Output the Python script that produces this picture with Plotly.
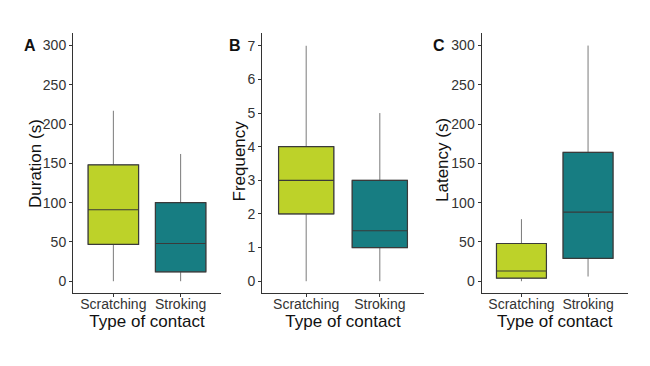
import plotly.graph_objects as go

categories = ["Scratching", "Stroking"]
colors = ["#bdd229", "#177d82"]

# Panel A: Duration (s)
dur_low = [0, 0]
dur_q1 = [47, 12]
dur_med = [91, 48]
dur_q3 = [148, 100]
dur_high = [217, 162]

# Panel B: Frequency
freq_low = [0, 0]
freq_q1 = [2, 1]
freq_med = [3, 1.5]
freq_q3 = [4, 3]
freq_high = [7, 5]

# Panel C: Latency (s)
lat_low = [0, 6]
lat_q1 = [4, 29]
lat_med = [13, 88]
lat_q3 = [48, 164]
lat_high = [79, 300]

panels = [
    ("A", "Duration (s)", dur_low, dur_q1, dur_med, dur_q3, dur_high,
     [0, 50, 100, 150, 200, 250, 300], [-15, 316]),
    ("B", "Frequency", freq_low, freq_q1, freq_med, freq_q3, freq_high,
     [0, 1, 2, 3, 4, 5, 6, 7], [-0.35, 7.38]),
    ("C", "Latency (s)", lat_low, lat_q1, lat_med, lat_q3, lat_high,
     [0, 50, 100, 150, 200, 250, 300], [-15, 316]),
]

W, H = 650, 366
OFF = 8  # page body margin
# pixel extents of each plot area (left, right), shared top/bottom
xpix = [(73, 221), (262, 424), (481.5, 628)]
lab_gap = [35, 19, 34.5]
ytitle_pos = [(35, 164), (238.5, 161), (442, 160)]
ytop, ybot = 33, 293

fig = go.Figure()
FONT = "Liberation Sans, Arial, sans-serif"
layout = dict(
    width=W, height=H, margin=dict(l=0, r=0, t=0, b=0),
    paper_bgcolor="white", plot_bgcolor="white", showlegend=False,
    font=dict(family=FONT, color="#333333"),
)
annotations = []

for i, (lab, ytitle, lo, q1, med, q3, hi, ticks, yr) in enumerate(panels):
    n = "" if i == 0 else str(i + 1)
    xref = "x" + n
    yref = "y" + n
    for j, cat in enumerate(categories):
        # full box with grey whiskers
        fig.add_trace(go.Box(
            x=[cat], q1=[q1[j]], median=[med[j]], q3=[q3[j]],
            lowerfence=[lo[j]], upperfence=[hi[j]],
            fillcolor=colors[j], line=dict(color="#7a7a7a", width=1),
            width=0.75, whiskerwidth=0, boxpoints=False,
            xaxis=xref, yaxis=yref, hoverinfo="skip",
        ))
        # box body outline and median in dark grey (no whiskers)
        fig.add_trace(go.Box(
            x=[cat], q1=[q1[j]], median=[med[j]], q3=[q3[j]],
            lowerfence=[q1[j]], upperfence=[q3[j]],
            fillcolor=colors[j], line=dict(color="#3a3a3a", width=1.2),
            width=0.75, whiskerwidth=0, boxpoints=False,
            xaxis=xref, yaxis=yref, hoverinfo="skip",
        ))
    x0, x1 = xpix[i][0] - OFF, xpix[i][1] - OFF
    layout["xaxis" + n] = dict(
        domain=[x0 / W, x1 / W], anchor=yref,
        type="category", categoryorder="array", categoryarray=categories,
        range=[-0.6, 1.6], showline=True, linecolor="#333333", linewidth=1,
        ticks="outside", ticklen=3, tickcolor="#333333", showgrid=False,
        zeroline=False, tickfont=dict(size=14, color="#333333", family=FONT),
        ticklabelstandoff=-5,
        title=dict(text="Type of contact", standoff=0,
                   font=dict(size=17, color="#111111", family=FONT)),
    )
    layout["yaxis" + n] = dict(
        domain=[1 - (ybot - OFF) / H, 1 - (ytop - OFF) / H], anchor=xref,
        range=yr, tickvals=ticks, showline=True, linecolor="#333333",
        linewidth=1, ticks="outside", ticklen=3, tickcolor="#333333",
        showgrid=False, zeroline=False,
        tickfont=dict(size=14, color="#333333", family=FONT),
    )
    tx, ty = ytitle_pos[i]
    annotations.append(dict(
        text=ytitle, xref="paper", yref="paper", textangle=-90,
        x=(tx - OFF) / W, y=1 - (ty - OFF) / H,
        xanchor="center", yanchor="middle", showarrow=False,
        font=dict(size=17, color="#111111", family=FONT),
    ))
    annotations.append(dict(
        text="<b>%s</b>" % lab, xref="paper", yref="paper",
        x=(x0 - lab_gap[i]) / W, y=1 - (45 - OFF) / H,
        xanchor="right", yanchor="middle",
        showarrow=False, font=dict(size=16, color="#111111", family=FONT),
    ))

layout["annotations"] = annotations
fig.update_layout(**layout)
fig.write_html("out.html")
